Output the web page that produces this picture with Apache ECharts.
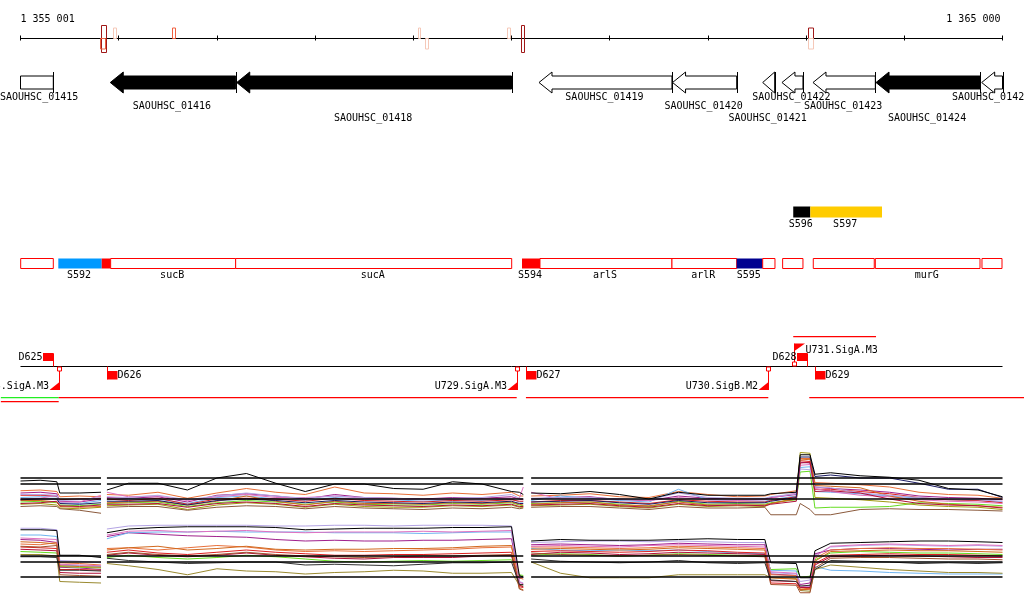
<!DOCTYPE html>
<html><head><meta charset="utf-8">
<script src="https://cdn.jsdelivr.net/npm/echarts@6/dist/echarts.min.js"></script>
<style>html,body{margin:0;padding:0;background:#fff}#c{width:1024px;height:611px}</style>
</head><body><div id="c"></div>
<script>
// ================= DATA =================
const viewStart = 1355000, viewEnd = 1365000;
const rulerLabels = ['1 355 001', '1 365 000'];
const rulerLabelPos = [1355000, 1365000];

// small marks on the ruler
const rulerMarkStart = [1355817, 1355810, 1355942, 1356543, 1359048, 1359119, 1359954, 1360094, 1363019, 1363019];
const rulerMarkEnd   = [1355871, 1355864, 1355969, 1356570, 1359068, 1359150, 1359985, 1360127, 1363067, 1363067];
const rulerMarkStrand = [0, -1, 1, 1, 1, -1, 1, 0, 1, -1];
const rulerMarkShade  = ['dark', 'mid', 'light', 'mid', 'light', 'light', 'light', 'dark', 'dark', 'light'];

// genes
const geneNames = ['SAOUHSC_01415','SAOUHSC_01416','SAOUHSC_01418','SAOUHSC_01419','SAOUHSC_01420','SAOUHSC_01421','SAOUHSC_01422','SAOUHSC_01423','SAOUHSC_01424','SAOUHSC_01425'];
const geneStart = [1354700, 1355914, 1357202, 1360280, 1361640, 1362558, 1362754, 1363070, 1363712, 1364788];
const geneEnd   = [1355334, 1357191, 1360000, 1361634, 1362293, 1362680, 1362968, 1363705, 1364771, 1365000];
const geneFilled = [0, 1, 1, 0, 0, 0, 0, 0, 1, 0];

// annotated features (upper row: S596/S597; lower row: operon boxes)
const featLabel = ['S596','S597','','S592','','sucB','sucA','S594','arlS','arlR','S595','','','','murG',''];
const featStart = [1362869,1363043,1355002,1355385,1355827,1355918,1357191,1360107,1360290,1361634,1362293,1362558,1362761,1363073,1363705,1364791];
const featEnd   = [1363043,1363773,1355334,1355827,1355918,1357191,1360002,1360290,1361634,1362293,1362558,1362683,1362968,1363694,1364771,1364995];
const featKind  = ['black','yellow','box','blue','red','box','box','red','box','box','navy','box','box','box','box','box'];
const featRow   = ['upper','upper','lower','lower','lower','lower','lower','lower','lower','lower','lower','lower','lower','lower','lower','lower'];

// terminators
const termName = ['D625','D626','D627','D628','D629'];
const termPos  = [1355328, 1355878, 1360147, 1363006, 1363090];
const termStrand = [1, -1, -1, 1, -1];
// promoters
const promName = ['U728.SigA.M3','U729.SigA.M3','U730.SigB.M2','U731.SigA.M3'];
const promPos  = [1355389, 1360053, 1362609, 1362877];
const promStrand = [-1, -1, -1, 1];
// transcripts
const trStart = [1354800, 1354800, 1355389, 1360147, 1363032, 1362869];
const trEnd   = [1355389, 1355389, 1360053, 1362615, 1365220, 1363712];
const trLevel = [0, 1, 0, 0, 0, 2];
const trKind  = ['green','red','red','red','red','red'];

// expression profiles (log2 signal), sampled at these genome positions
const exprPos = [1355000,1355200,1355370,1355400,1355600,1355820,1355850,1355880,1356100,1356400,1356700,1357000,1357300,1357600,1357900,1358200,1358500,1358800,1359100,1359400,1359700,1360000,1360080,1360120,1360160,1360200,1360500,1360800,1361100,1361400,1361700,1362000,1362300,1362580,1362640,1362900,1362940,1363040,1363090,1363250,1363550,1363850,1364150,1364450,1364750,1365000];
const thresholds = [8, 10, 10.8];

// panel 1
const p1Orange = [9.1,9.2,9.0,8.3,8.4,8.3,null,8.6,8.5,8.9,8.1,8.8,9.4,8.9,8.6,9.6,8.8,8.7,8.5,8.8,8.6,8.9,8.4,8.4,null,8.4,8.5,8.7,8.3,8.2,9.0,8.6,8.3,8.4,8.6,9.1,13.4,13.4,10.2,10.1,9.9,9.6,8.9,8.6,8.5,8.1];
const p1Purple = [8.8,8.9,8.7,7.7,7.6,8.0,null,8.2,8.1,8.3,7.6,8.5,8.7,8.4,8.0,8.6,8.2,8.1,8.0,8.2,8.1,8.3,8.0,7.9,null,8.0,8.2,8.3,7.9,7.8,8.4,8.1,8.0,8.0,8.2,8.6,12.9,12.8,9.6,9.4,9.2,8.9,8.4,8.2,8.1,7.9];
const p1Blue   = [8.2,8.3,8.3,7.5,7.4,7.8,null,7.9,8.0,8.0,7.4,8.2,8.4,8.0,7.8,8.2,7.9,7.9,7.7,7.9,7.8,8.0,7.6,7.6,null,7.8,8.4,8.1,7.8,7.6,9.3,7.9,7.8,7.7,7.9,8.4,12.2,12.3,9.0,8.9,8.7,8.4,8.1,7.9,7.8,7.6];
const p1Green  = [7.6,7.7,7.5,7.2,7.1,7.3,null,7.4,7.5,7.6,7.0,7.5,7.8,7.6,7.3,7.6,7.3,7.2,7.2,7.4,7.3,7.5,7.2,7.1,null,7.4,7.5,7.6,7.3,7.0,7.7,7.3,7.4,7.3,7.5,7.9,11.6,11.7,6.8,6.9,6.9,7.0,7.5,7.4,7.3,7.1];
const p1Olive  = [7.3,7.4,7.2,6.8,6.7,6.9,null,7.1,7.2,7.3,6.6,7.2,7.5,7.3,6.9,7.3,7.0,6.9,6.9,7.1,7.0,7.2,6.9,6.9,null,7.1,7.2,7.3,7.0,6.8,7.3,7.0,7.1,7.0,7.4,8.1,14.2,14.1,8.2,8.1,7.9,7.6,7.2,7.0,6.9,6.6];
const p1Red    = [8.5,8.5,8.4,7.9,8.0,8.1,null,8.0,7.8,8.1,7.3,8.0,8.1,8.0,7.7,8.1,7.8,7.7,7.6,7.8,7.7,7.9,7.7,7.7,null,7.6,7.8,7.8,7.6,7.4,7.9,7.7,7.6,7.6,7.8,8.3,13.1,13.0,9.3,9.3,9.0,8.7,8.2,7.9,7.8,7.5];
const p1Pink   = [8.0,8.1,8.5,7.6,7.6,8.5,null,8.9,8.3,8.4,7.8,8.3,8.6,8.2,8.2,8.4,8.1,8.0,7.9,8.0,8.0,8.1,8.1,9.6,null,8.9,8.0,8.0,8.0,7.8,8.2,7.9,7.8,7.9,8.1,8.8,12.5,12.6,9.4,9.0,8.5,8.3,7.9,7.7,7.6,7.4];
const p1Brown  = [7.0,7.1,7.0,6.7,6.5,6.1,null,6.9,7.0,7.0,6.5,6.9,7.1,7.0,6.7,7.0,6.8,6.7,6.6,6.8,6.7,6.9,6.7,6.8,null,6.9,7.0,7.0,6.8,6.6,7.0,6.8,6.8,6.9,5.9,5.9,7.4,6.6,5.9,5.9,6.6,6.7,6.6,6.6,6.5,6.4];
const p1Choc   = [7.8,7.8,7.6,7.0,6.9,7.0,null,7.5,7.6,7.7,7.2,7.7,8.4,7.7,7.2,7.7,7.4,7.4,7.3,7.5,7.4,7.6,7.3,7.2,null,7.3,7.5,7.6,7.2,7.1,7.6,7.2,7.2,7.2,7.4,8.0,13.2,13.3,9.8,9.7,9.5,8.4,7.7,7.3,7.1,6.9];
const p1Lav    = [8.6,8.6,8.5,7.8,7.9,8.2,null,8.3,8.2,8.5,7.9,8.4,8.8,8.4,8.1,8.4,8.2,8.1,7.9,8.1,8.2,8.6,8.1,8.0,null,8.1,8.2,8.2,8.0,7.9,8.8,8.2,8.1,8.1,8.3,8.7,12.0,11.9,9.6,9.5,8.8,8.5,8.2,8.0,7.9,7.7];
const p1Crimson= [7.4,7.5,7.7,7.1,7.0,7.2,null,7.3,7.3,7.4,6.9,7.4,7.6,7.4,7.0,7.4,7.2,7.1,7.0,7.2,7.1,7.3,7.0,7.0,null,7.2,7.3,7.4,7.1,6.9,7.4,7.1,7.2,7.1,7.3,7.7,12.8,12.9,9.0,9.1,8.8,8.0,7.4,7.2,7.1,6.8];
const p1Navy   = [7.9,8.0,8.0,7.4,7.3,7.5,null,7.7,7.7,7.8,7.2,7.8,8.0,7.8,7.5,7.8,7.6,7.5,7.4,7.6,7.5,7.7,7.4,7.4,null,7.6,7.7,7.8,7.5,7.3,7.8,7.5,7.5,7.5,7.7,8.2,13.6,13.6,11.0,11.2,10.8,10.8,10.1,9.3,9.3,8.2];
const p1Black  = [10.4,10.5,10.3,8.8,8.8,8.9,null,9.2,10.1,10.1,9.2,10.8,11.4,10.1,9.0,10.0,10.0,9.4,9.3,10.3,10.0,9.0,8.9,8.6,null,8.8,8.7,9.0,8.6,8.0,8.9,8.5,8.5,8.5,8.7,8.9,13.9,13.9,11.3,11.5,11.1,10.9,10.5,9.4,9.2,8.3];

// panel 2
const p2Lav    = [14.5,14.5,14.3,10.2,10.1,9.9,null,14.4,14.8,14.9,14.9,14.9,14.9,14.8,14.8,14.9,14.9,14.8,14.9,14.9,14.9,14.8,7.4,7.2,null,12.6,12.7,12.8,12.8,12.7,12.8,12.7,12.6,12.6,8.6,8.4,7.4,7.6,10.9,12.0,12.2,12.3,12.2,12.1,12.2,12.1];
const p2Purple = [13.0,12.9,12.6,9.3,9.2,9.0,null,13.4,13.9,13.7,13.5,13.4,13.3,13.0,12.8,12.9,12.8,12.8,12.9,12.9,13.0,13.1,7.8,7.9,null,12.3,12.4,12.3,12.2,12.3,12.5,12.4,12.3,12.3,8.4,8.2,7.0,7.2,11.1,11.6,11.8,11.8,11.7,11.6,11.7,11.7];
const p2Blue   = [13.6,13.6,13.4,9.6,9.5,9.4,null,13.1,13.9,14.0,14.0,14.1,14.0,14.0,14.0,13.9,13.9,13.9,13.8,13.9,14.0,14.0,7.1,6.9,null,11.8,11.6,11.5,11.6,11.5,11.6,11.4,11.2,11.1,8.9,8.8,6.6,6.7,9.4,8.9,8.8,8.6,8.5,8.4,8.4,8.4];
const p2Orange = [12.4,12.3,12.6,9.9,9.8,9.6,null,11.8,11.9,11.6,11.9,12.2,12.0,11.6,11.4,11.5,11.4,11.5,11.6,11.7,11.9,12.0,7.9,7.7,null,12.0,12.0,11.9,11.8,11.9,12.1,12.0,11.9,11.8,8.3,8.2,6.4,6.5,10.5,11.6,11.8,11.9,11.8,11.8,11.7,11.6];
const p2Green  = [11.4,11.3,11.2,9.4,9.3,9.2,null,10.6,10.9,10.6,10.4,10.6,10.9,10.7,10.4,10.1,10.0,10.1,10.2,10.1,10.2,10.3,8.3,8.2,null,10.9,11.1,11.0,10.8,10.9,11.1,11.0,10.9,10.8,9.0,9.1,8.0,8.1,10.3,11.2,11.4,11.3,11.2,11.2,11.1,11.0];
const p2Olive  = [11.0,11.0,10.8,7.4,7.3,7.2,null,9.8,9.5,9.0,8.3,9.1,8.8,8.7,8.4,8.6,8.7,8.9,8.8,8.5,8.5,8.6,6.9,6.8,null,10.0,8.5,7.9,7.9,7.9,8.3,8.3,8.3,8.3,7.9,7.8,6.2,6.1,9.0,9.6,9.3,9.0,8.8,8.6,8.6,8.5];
const p2Red    = [12.0,11.9,11.8,9.0,9.0,8.9,null,11.3,11.6,11.2,11.0,11.3,11.6,11.3,11.1,10.9,10.9,11.0,11.0,11.1,11.2,11.3,6.7,6.6,null,11.4,11.5,11.4,11.3,11.4,11.6,11.5,11.3,11.2,7.2,7.1,6.3,6.4,9.8,10.9,11.0,11.1,11.0,11.0,10.9,10.8];
const p2Pink   = [13.2,13.1,13.0,9.7,9.6,9.5,null,13.6,14.1,14.2,14.0,14.1,14.2,14.0,13.9,14.0,14.0,14.0,14.1,14.0,14.1,14.2,7.3,7.1,null,12.1,12.2,12.1,12.0,12.2,12.3,12.2,12.1,12.0,8.7,8.5,6.7,6.8,10.7,12.1,12.3,12.4,12.3,12.2,12.3,12.2];
const p2Choc   = [12.7,12.6,12.4,9.5,9.4,9.3,null,11.6,11.9,12.1,11.6,11.8,12.1,11.7,11.6,11.7,11.7,11.8,11.8,11.9,12.1,12.2,6.5,6.3,null,11.7,11.8,11.7,11.6,11.7,11.9,11.8,11.7,11.6,7.9,7.7,6.3,6.4,10.1,11.4,11.5,11.6,11.5,11.5,11.4,11.3];
const p2Crimson= [11.7,11.6,11.5,8.6,8.5,8.5,null,10.9,11.2,10.9,10.7,10.9,11.2,10.9,10.7,10.5,10.4,10.6,10.6,10.6,10.8,10.9,6.9,6.7,null,11.0,11.3,11.2,11.0,11.1,11.3,11.2,11.1,11.0,7.5,7.4,6.6,6.6,9.6,10.7,10.8,10.9,10.8,10.7,10.6,10.6];
const p2Sienna = [12.1,12.0,12.2,8.3,8.2,8.1,null,11.0,11.3,11.0,10.8,11.0,11.3,11.0,10.8,10.7,10.6,10.7,10.8,10.8,10.9,11.0,6.4,6.2,null,11.2,11.0,10.9,10.8,10.9,11.0,10.9,10.8,10.7,7.0,6.9,5.9,5.9,9.2,10.5,10.6,10.6,10.5,10.4,10.4,10.3];
const p2Dark   = [10.7,10.7,10.6,8.9,8.9,8.8,null,10.5,10.2,10.0,9.8,9.9,10.0,10.0,9.6,9.7,9.6,9.5,9.7,9.9,9.9,10.0,7.0,7.0,null,10.4,10.1,10.0,9.9,10.0,10.2,9.9,9.8,9.9,7.6,7.4,6.8,6.9,9.0,10.2,10.1,10.0,9.8,9.9,9.8,9.9];
const p2Black  = [14.3,14.3,14.2,10.9,10.9,10.6,null,13.9,14.4,14.6,14.7,14.7,14.7,14.6,14.3,14.4,14.5,14.5,14.5,14.6,14.6,14.7,8.2,8.0,null,12.8,13.0,12.9,12.9,12.9,13.0,13.1,13.0,13.0,9.9,9.8,7.9,7.9,11.5,12.5,12.6,12.7,12.8,12.8,12.7,12.6];

// ================= STYLE / LAYOUT =================
const panel1 = [[p1Orange,'#e8703a'],[p1Purple,'#a0208c'],[p1Blue,'#6eb4f0'],[p1Green,'#66dd22'],[p1Olive,'#a09a10'],[p1Red,'#dd2020'],[p1Pink,'#e070c0'],[p1Brown,'#8b5a3c'],[p1Choc,'#d2691e'],[p1Lav,'#b4a4e4'],[p1Crimson,'#b0103a'],[p1Navy,'#1c1c64'],[p1Black,'#000000']];
const panel2 = [[p2Lav,'#b4a4e4'],[p2Purple,'#a0208c'],[p2Blue,'#6eb4f0'],[p2Orange,'#e8703a'],[p2Green,'#66dd22'],[p2Olive,'#9a8a30'],[p2Red,'#dd2020'],[p2Pink,'#e070c0'],[p2Choc,'#d2691e'],[p2Crimson,'#b0103a'],[p2Sienna,'#a0522d'],[p2Dark,'#303030'],[p2Black,'#000000']];

const L = {
  rulerLabelY: 19,
  markY: {'1': [28, 38.5], '-1': [38.5, 49], '0': [25.5, 52.5]},
  markColor: {dark: '#a01818', mid: '#f06040', light: '#f5c8b8'},
  geneY: 82.5, geneBodyH: 13, geneHeadH: 21, geneHeadLen: 13, geneLabelY: [97.5, 106, 118],
  featY: {upper: 206.5, lower: 258.5}, featH: {upper: 11, lower: 10}, featLabelY: {upper: 224.5, lower: 275.5},
  featStyle: {box: ['#ffffff', '#ff0000'], blue: ['#0099ff', null], red: ['#ff0000', null], navy: ['#000090', null], black: ['#000000', null], yellow: ['#ffcc00', null]},
  promLineY: 366.5, trY: [397.5, 401.5, 336.5], trColor: {green: '#22ee22', red: '#ff0000'}
};
const FONT = '10px "DejaVu Sans Mono", "Liberation Mono", monospace';
const CHAR_W = 6.02;
const RED = '#ff0000';

function txt(text, x, y, align) {
  return {type: 'text', z2: 20, style: {text: text, x: x, y: y, align: align || 'center', verticalAlign: 'middle', font: FONT, fill: '#000'}};
}
function rect(x, y, w, h, fill, stroke) {
  return {type: 'rect', shape: {x: x, y: y, width: w, height: h}, style: {fill: fill || 'none', stroke: stroke || null, lineWidth: 1}};
}
function seg(x1, y1, x2, y2, color, lw) {
  return {type: 'line', shape: {x1: x1, y1: y1, x2: x2, y2: y2}, style: {stroke: color, lineWidth: lw || 1}};
}
const px = (api, bp) => api.coord([bp, 0])[0];

function customOn0(data, renderItem, z) {
  return {type: 'custom', coordinateSystem: 'cartesian2d', xAxisIndex: 0, yAxisIndex: 0, data: data, renderItem: renderItem, silent: true, z: z || 2, animation: false};
}

const series = [];

// ruler labels
series.push(customOn0(rulerLabelPos.map(p => [p, 0]), (params, api) => {
  const i = params.dataIndex;
  return txt(rulerLabels[i], px(api, api.value(0)) + (i === 0 ? 0 : -2), L.rulerLabelY, i === 0 ? 'left' : 'right');
}));
// ruler marks
series.push(customOn0(rulerMarkStart.map((s, i) => [s, rulerMarkEnd[i]]), (params, api) => {
  const i = params.dataIndex;
  const x0 = px(api, api.value(0)), x1 = px(api, api.value(1));
  const yy = L.markY[String(rulerMarkStrand[i])];
  return rect(Math.round(x0) + 0.5, yy[0], Math.max(2, Math.round(x1 - x0)), yy[1] - yy[0], 'none', L.markColor[rulerMarkShade[i]]);
}, 3));
// genes
series.push(customOn0(geneStart.map((s, i) => [s, geneEnd[i]]), (params, api) => {
  const i = params.dataIndex;
  const left = px(api, viewStart);
  let x0 = px(api, api.value(0));
  const x1 = px(api, api.value(1));
  const clipped = x0 < left; if (clipped) x0 = left;
  const yc = L.geneY, bt = yc - L.geneBodyH / 2, bb = yc + L.geneBodyH / 2, ht = yc - L.geneHeadH / 2, hb = yc + L.geneHeadH / 2;
  const hl = Math.min(L.geneHeadLen, x1 - x0);
  const pts = clipped ? [[x0, bt], [x1, bt], [x1, bb], [x0, bb]]
    : [[x0, yc], [x0 + hl, ht], [x0 + hl, bt], [x1, bt], [x1, bb], [x0 + hl, bb], [x0 + hl, hb]];
  let cx = (x0 + x1) / 2 - 1;
  const halfW = geneNames[i].length * CHAR_W / 2;
  const label = (cx - halfW < 0) ? txt(geneNames[i], 0, L.geneLabelY[i % 3], 'left') : txt(geneNames[i], cx, L.geneLabelY[i % 3]);
  return {type: 'group', children: [
    {type: 'polygon', shape: {points: pts}, style: {fill: geneFilled[i] ? '#000' : '#fff', stroke: '#000', lineWidth: 1}},
    seg(Math.round(x1) + 0.5, ht, Math.round(x1) + 0.5, hb, '#000', 1),
    label
  ]};
}));
// features
series.push(customOn0(featStart.map((s, i) => [s, featEnd[i]]), (params, api) => {
  const i = params.dataIndex;
  const x0 = px(api, api.value(0)), x1 = px(api, api.value(1));
  const row = featRow[i], st = L.featStyle[featKind[i]];
  const ch = [rect(x0, L.featY[row], x1 - x0, L.featH[row], st[0], st[1])];
  if (featLabel[i]) ch.push(txt(featLabel[i], (x0 + x1) / 2 - 1, L.featLabelY[row]));
  return {type: 'group', children: ch};
}));
// promoter track backbone
series.push(customOn0([[viewStart, viewEnd]], (params, api) => seg(px(api, api.value(0)), L.promLineY, px(api, api.value(1)), L.promLineY, '#000', 1)));
// transcripts
series.push(customOn0(trStart.map((s, i) => [s, trEnd[i]]), (params, api) => {
  const i = params.dataIndex;
  const y = L.trY[trLevel[i]];
  const x0 = px(api, api.value(0)), x1 = px(api, api.value(1));
  return rect(x0, y - 0.5, x1 - x0, 1.2, L.trColor[trKind[i]], null);
}, 3));
// terminators
series.push(customOn0(termPos.map(p => [p, 0]), (params, api) => {
  const i = params.dataIndex;
  const x = Math.round(px(api, api.value(0))) + 0.5, y0 = L.promLineY;
  if (termStrand[i] > 0) {
    return {type: 'group', children: [
      seg(x, y0, x, y0 - 13, RED, 1),
      rect(x - 10.5, y0 - 13.5, 10.5, 8, RED, null),
      txt(termName[i], x - 11, y0 - 9.5, 'right')
    ]};
  }
  return {type: 'group', children: [
    seg(x, y0, x, y0 + 13, RED, 1),
    rect(x, y0 + 4.5, 10, 8.5, RED, null),
    txt(termName[i], x + 10, y0 + 9, 'left')
  ]};
}, 4));
// promoters
series.push(customOn0(promPos.map(p => [p, 0]), (params, api) => {
  const i = params.dataIndex;
  const x = Math.round(px(api, api.value(0))) + 0.5, y0 = L.promLineY;
  if (promStrand[i] > 0) {
    return {type: 'group', children: [
      rect(x - 2, y0 - 4.5, 4, 4, '#fff', RED),
      seg(x, y0 - 4.5, x, y0 - 23, RED, 1),
      {type: 'polygon', shape: {points: [[x, y0 - 23], [x + 10.5, y0 - 23], [x, y0 - 15.5]]}, style: {fill: RED}},
      txt(promName[i], x + 11, y0 - 16.5, 'left')
    ]};
  }
  return {type: 'group', children: [
    rect(x - 2, y0 + 0.5, 4, 4, '#fff', RED),
    seg(x, y0 + 4.5, x, y0 + 23.5, RED, 1),
    {type: 'polygon', shape: {points: [[x - 10, y0 + 23.5], [x, y0 + 23.5], [x, y0 + 15.5]]}, style: {fill: RED}},
    txt(promName[i], x - 10.5, y0 + 19.5, 'right')
  ]};
}, 4));

// expression panels
function addPanel(list, axisIdx) {
  list.forEach(function (pair, k) {
    series.push({
      type: 'line', xAxisIndex: axisIdx, yAxisIndex: axisIdx, silent: true, animation: false,
      symbol: 'none', connectNulls: false, z: 2 + k * 0.01,
      lineStyle: {width: 1, color: pair[1]},
      data: exprPos.map((p, j) => [p, pair[0][j]])
    });
  });
  thresholds.forEach(function (t) {
    series.push({
      type: 'line', xAxisIndex: axisIdx, yAxisIndex: axisIdx, silent: true, animation: false,
      symbol: 'none', connectNulls: false, z: 5,
      lineStyle: {width: 1.3, color: '#000'},
      data: exprPos.map((p, j) => [p, list[0][0][j] === null ? null : t])
    });
  });
}
addPanel(panel1, 3);
addPanel(panel2, 4);

const G = {left: 20.5, right: 21.5};
const hiddenX = i => ({type: 'value', gridIndex: i, min: viewStart, max: viewEnd, show: false});
const rulerAxis = (gi, pos) => ({type: 'value', gridIndex: gi, position: pos, min: viewStart, max: viewEnd, interval: 1000,
  axisLine: {show: true, onZero: false, lineStyle: {color: '#000', width: 1}},
  axisTick: {show: true, inside: true, length: 2.5, lineStyle: {color: '#000'}},
  axisLabel: {show: false}, splitLine: {show: false}});
const option = {
  backgroundColor: '#ffffff',
  animation: false,
  grid: [
    {left: G.left, right: G.right, top: 0, height: 611},
    {left: G.left, right: G.right, top: 38, height: 10},
    {left: G.left, right: G.right, top: 28, height: 10},
    {left: G.left, right: G.right, top: 446.5, height: 75},
    {left: G.left, right: G.right, top: 524.5, height: 75}
  ],
  xAxis: [hiddenX(0), rulerAxis(1, 'top'), rulerAxis(2, 'bottom'), hiddenX(3), hiddenX(4)],
  yAxis: [
    {type: 'value', gridIndex: 0, min: 0, max: 611, inverse: true, show: false},
    {type: 'value', gridIndex: 1, min: 0, max: 1, show: false},
    {type: 'value', gridIndex: 2, min: 0, max: 1, show: false},
    {type: 'value', gridIndex: 3, min: 5, max: 15, show: false},
    {type: 'value', gridIndex: 4, min: 5, max: 15, show: false}
  ],
  series: series
};
const chart = echarts.init(document.getElementById('c'), null, {renderer: 'canvas'});
chart.setOption(option);
</script>
</body></html>
